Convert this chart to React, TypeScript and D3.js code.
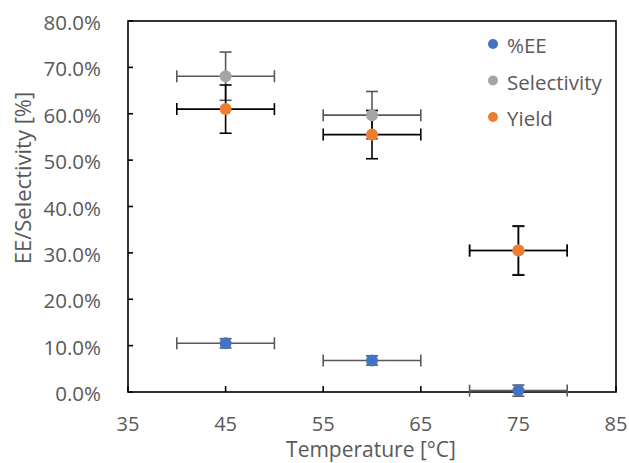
import React from "react";
import * as d3 from "d3";

// Temperature settings and measured responses (fractions, shown as percent)
const temperatures = [45, 60, 75];
const tempError = [5, 5, 5];
const eeValues = [0.105, 0.068, 0.003];
const eeError = [0.01, 0.01, 0.012];
const selectivityValues = [0.681, 0.597, 0.305];
const selectivityError = [0.052, 0.051, 0.052];
const yieldValues = [0.61, 0.555, 0.305];
const yieldError = [0.052, 0.052, 0.053];

const xTicks = [35, 45, 55, 65, 75, 85];
const yTicks = [0, 0.1, 0.2, 0.3, 0.4, 0.5, 0.6, 0.7, 0.8];

const seriesNames = ["%EE", "Selectivity", "Yield"];
const seriesColors = ["#4472C4", "#A5A5A5", "#ED7D31"];
const barColors = ["#595959", "#595959", "#000000"];

const W = 629;
const H = 463;
const plot = { left: 128, right: 616, top: 21, bottom: 392 };
const FONT = "'Open Sans', 'Noto Sans', sans-serif";
const TEXT = "#595959";

export default function App() {
  const x = d3.scaleLinear().domain([35, 85]).range([plot.left, plot.right]);
  const y = d3.scaleLinear().domain([0, 0.8]).range([plot.bottom, plot.top]);
  const pct = d3.format(".1%");

  const series = [
    { values: eeValues, err: eeError },
    { values: selectivityValues, err: selectivityError },
    { values: yieldValues, err: yieldError },
  ];
  const cap = 6;

  return (
    <svg
      width={W}
      height={H}
      style={{ position: "absolute", left: 0, top: 0, background: "#fff" }}
      fontFamily={FONT}
    >
      <rect width={W} height={H} fill="#fff" />

      {/* plot frame */}
      <rect
        x={plot.left}
        y={plot.top}
        width={plot.right - plot.left}
        height={plot.bottom - plot.top}
        fill="none"
        stroke="#000"
        strokeWidth={1.6}
      />

      {/* y ticks + labels */}
      {yTicks.map((t) => (
        <g key={"y" + t}>
          <line x1={plot.left} x2={plot.left + 5} y1={y(t)} y2={y(t)} stroke="#000" strokeWidth={1.6} />
          <text x={101} y={y(t) + 1} textAnchor="end" dominantBaseline="central" fontSize={20.5} fill={TEXT}>
            {pct(t)}
          </text>
        </g>
      ))}

      {/* x ticks + labels */}
      {xTicks.map((t) => (
        <g key={"x" + t}>
          <line x1={x(t)} x2={x(t)} y1={plot.bottom} y2={plot.bottom - 6} stroke="#000" strokeWidth={1.6} />
          <text x={x(t)} y={423} textAnchor="middle" dominantBaseline="central" fontSize={20} fill={TEXT}>
            {t}
          </text>
        </g>
      ))}

      {/* axis titles */}
      <text x={(plot.left + plot.right) / 2 - 1} y={449} textAnchor="middle" dominantBaseline="central" fontSize={21} fill={TEXT}>
        Temperature [°C]
      </text>
      <text
        transform={`translate(22, 178) rotate(-90)`}
        textAnchor="middle"
        dominantBaseline="central"
        fontSize={22}
        fill={TEXT}
      >
        EE/Selectivity [%]
      </text>

      {/* error bars */}
      {series.map((s, si) =>
        temperatures.map((t, i) => {
          const cx = x(t);
          const cy = y(s.values[i]);
          const x0 = x(t - tempError[i]);
          const x1 = x(t + tempError[i]);
          const y0 = y(s.values[i] - s.err[i]);
          const y1 = y(s.values[i] + s.err[i]);
          const c = barColors[si];
          return (
            <g key={`e${si}-${i}`} stroke={c} strokeWidth={1.6}>
              <line x1={x0} x2={x1} y1={cy} y2={cy} />
              <line x1={x0} x2={x0} y1={cy - cap} y2={cy + cap} />
              <line x1={x1} x2={x1} y1={cy - cap} y2={cy + cap} />
              <line x1={cx} x2={cx} y1={y0} y2={y1} />
              <line x1={cx - cap} x2={cx + cap} y1={y0} y2={y0} />
              <line x1={cx - cap} x2={cx + cap} y1={y1} y2={y1} />
            </g>
          );
        })
      )}

      {/* markers */}
      {series.map((s, si) =>
        temperatures.map((t, i) => (
          <circle key={`m${si}-${i}`} cx={x(t)} cy={y(s.values[i])} r={6} fill={seriesColors[si]} />
        ))
      )}

      {/* legend */}
      {seriesNames.map((n, i) => (
        <g key={n} transform={`translate(493, ${44 + i * 36.5})`}>
          <circle r={5} fill={seriesColors[i]} />
          <text x={14} y={1} dominantBaseline="central" fontSize={20.5} fill={TEXT}>
            {n}
          </text>
        </g>
      ))}
    </svg>
  );
}
